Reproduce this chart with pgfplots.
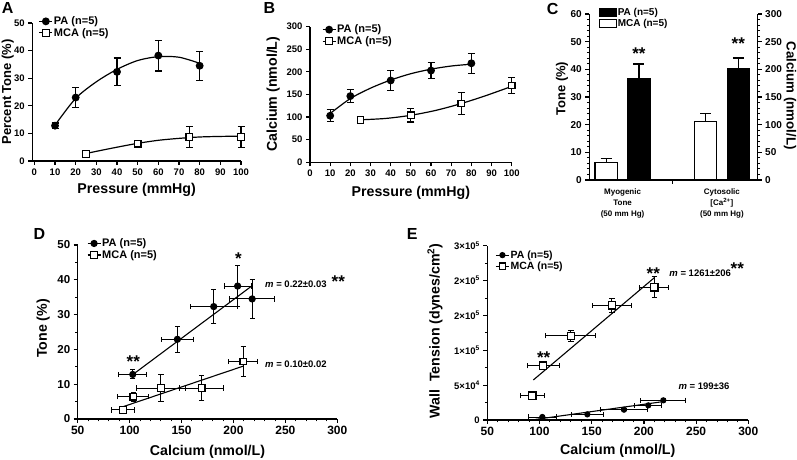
\documentclass[border=0pt]{standalone}
\usepackage{fontspec}
\setmainfont{Liberation Sans}
\usepackage{pgfplots}
\pgfplotsset{compat=1.18}
\newcommand{\lblfont}{\fontsize{14.2}{17}\selectfont\bfseries}
\pgfplotsset{
  prism/.style={
    scale only axis,
    axis lines=left,
    axis line style={-, line width=1.2pt},
    tick align=outside,
    major tick length=4pt,
    minor tick length=2.5pt,
    every tick/.style={black, line width=1.2pt},
    every minor tick/.style={black, line width=0.9pt},
    /pgf/number format/assume math mode=true,
    tick label style={font=\fontsize{9.5}{11}\selectfont\bfseries},
    legend style={draw=none, fill=none, inner sep=0pt, row sep=0pt, nodes={inner sep=1pt}, font=\fontsize{11}{12}\selectfont\bfseries, /tikz/column 2/.style={column sep=4pt}},
    legend cell align=left,
    legend image code/.code={\draw[mark repeat=2,mark phase=2,##1] plot coordinates {(0pt,0pt) (6.5pt,0pt) (13pt,0pt)};},
    clip=false,
  },
  pa/.style={black, line width=1.2pt, mark=*, mark size=3.3pt, mark options={solid, fill=black}},
  mca/.style={black, line width=1.2pt, mark=square*, mark size=3.3pt, mark options={solid, fill=white}},
  fit/.style={black, line width=1.2pt, smooth, no marks},
  ebary/.style={only marks, error bars/y dir=both, error bars/y explicit, error bars/error bar style={line width=1.2pt}, error bars/error mark options={black, line width=1.2pt, mark size=3.5pt, rotate=90}},
  ebarxy/.style={only marks, error bars/x dir=both, error bars/x explicit, error bars/y dir=both, error bars/y explicit, error bars/error bar style={line width=1pt}, error bars/error mark options={black, line width=1pt, mark size=2.6pt, rotate=90}},
  cbar/.style={forget plot, ybar, bar width=0.2246, bar shift=0pt, draw=black, line width=1.2pt, error bars/y dir=plus, error bars/y explicit, error bars/error bar style={line width=1.2pt}, error bars/error mark options={black, line width=1.2pt, mark size=5.5pt, rotate=90}},
}
\begin{document}
\bfseries
\begin{tikzpicture}
\path[use as bounding box] (0pt,0pt) rectangle (797pt,460pt);
% panel letters
\node[anchor=base west, inner sep=0, font=\fontsize{16}{18}\selectfont\bfseries] at (1.7pt,446pt) {A};
\node[anchor=base west, inner sep=0, font=\fontsize{16}{18}\selectfont\bfseries] at (263.3pt,446pt) {B};
\node[anchor=base west, inner sep=0, font=\fontsize{16}{18}\selectfont\bfseries] at (546.7pt,445pt) {C};
\node[anchor=base west, inner sep=0, font=\fontsize{16}{18}\selectfont\bfseries] at (33.3pt,220pt) {D};
\node[anchor=base west, inner sep=0, font=\fontsize{16}{18}\selectfont\bfseries] at (406.7pt,220pt) {E};

% ---------------- A ----------------
\begin{axis}[prism, at={(32.3pt,299pt)}, anchor=south west, width=208.7pt, height=138pt,
  xmin=-1, xmax=100, ymin=0, ymax=50, xtick={0,10,...,100}, ytick={0,10,...,50},
  xlabel={Pressure (mmHg)}, ylabel={Percent Tone (\%)},
  every axis x label/.style={at={(axis description cs:0.5,-0.234)}, anchor=base, font=\lblfont},
  every axis y label/.style={at={(axis description cs:-0.117,0.502)}, anchor=center, rotate=90, font=\fontsize{13}{15}\selectfont\bfseries},
  legend style={at={(axis description cs:0.03,1.055)}, anchor=north west}]
\addlegendimage{pa}\addlegendentry{PA (n=5)}
\addlegendimage{mca}\addlegendentry{MCA (n=5)}
\addplot[fit, forget plot] coordinates {(10,13.0) (20,22.7) (30,28.7) (40,33.2) (50,36.4) (60,37.8) (70,37.6) (80,35.4)};
\addplot[fit, forget plot] coordinates {(25,2.7) (30,3.5) (40,5.0) (50,6.4) (60,7.5) (70,8.2) (80,8.7) (90,8.9) (100,9.0)};
\addplot[pa, forget plot, ebary] table[x=x, y=y, y error=e] {
x y e
10 12.8 1.0
20 23.0 3.7
40 32.3 5.0
60 38.2 5.6
80 34.5 5.3
};
\addplot[mca, forget plot, ebary] table[x=x, y=y, y error=e] {
x y e
25 2.6 0.6
50 6.3 0.8
75 8.7 3.9
100 8.7 3.7
};
\end{axis}

% ---------------- B ----------------
\begin{axis}[prism, at={(310pt,297.7pt)}, anchor=south west, width=201.7pt, height=135.6pt,
  xmin=0, xmax=100, ymin=0, ymax=300, xtick={0,10,...,100}, ytick={0,50,...,300},
  xlabel={Pressure (mmHg)}, ylabel={Calcium (nmol/L)},
  every axis x label/.style={at={(axis description cs:0.5,-0.254)}, anchor=base, font=\lblfont},
  every axis y label/.style={at={(axis description cs:-0.182,0.502)}, anchor=center, rotate=90, font=\lblfont},
  legend style={at={(axis description cs:0.0585,1.022)}, anchor=north west}]
\addlegendimage{pa}\addlegendentry{PA (n=5)}
\addlegendimage{mca}\addlegendentry{MCA (n=5)}
\addplot[fit, forget plot] coordinates {(10,108) (20,141) (30,164) (40,182) (50,196) (60,206) (70,213) (80,217)};
\addplot[fit, forget plot] coordinates {(25,94) (37.5,97) (50,104) (62.5,115) (75,130) (87.5,148) (100,168)};
\addplot[pa, forget plot, ebary] table[x=x, y=y, y error=e] {
x y e
10 103 13.5
20 146.5 14
40 181 22
60 203 18
80 219 22
};
\addplot[mca, forget plot, ebary] table[x=x, y=y, y error=e] {
x y e
25 93.6 8
50 104 15
75 130 24
100 170 17
};
\end{axis}

% ---------------- C ----------------
\begin{axis}[prism, at={(589.3pt,280pt)}, anchor=south west, width=168.4pt, height=166pt,
  xmin=0.6647, xmax=2.3605, ymin=0, ymax=60, xtick={1.5}, xticklabels={}, ytick={0,10,...,60},
  minor y tick num=4,
  tick label style={font=\fontsize{10}{12}\selectfont\bfseries},
  ylabel={Tone (\%)},
  every axis y label/.style={at={(axis description cs:-0.162,0.55)}, anchor=center, rotate=90, font=\fontsize{13}{15}\selectfont\bfseries},
  legend style={at={(axis description cs:0.055,1.042)}, anchor=north west, nodes={inner sep=1pt}, font=\fontsize{10}{11}\selectfont\bfseries, /tikz/column 2/.style={column sep=0.5pt}},
  legend image code/.code={\draw[#1] (0pt,-3.7pt) rectangle (17pt,3.7pt);}]
\addlegendimage{draw=black, fill=black, line width=1pt}\addlegendentry{PA (n=5)}
\addlegendimage{draw=black, fill=white, line width=1pt}\addlegendentry{MCA (n=5)}
\addplot[cbar, fill=white] coordinates {(0.835,6.4) +- (0,1.5)};
\addplot[cbar, fill=black] coordinates {(1.165,36.6) +- (0,5.3)};
\node[font=\fontsize{17}{18}\selectfont\bfseries] at (axis cs:1.165,45.5) {**};
\node[align=center, anchor=north, font=\fontsize{8}{10.7}\selectfont\bfseries] at (axis cs:1,-2.0) {Myogenic\\Tone\\(50 mm Hg)};
\node[align=center, anchor=north, font=\fontsize{8}{10.7}\selectfont\bfseries] at (axis cs:2,-2.0) {Cytosolic\\{[}Ca\textsuperscript{2+}{]}\\(50 mm Hg)};
\end{axis}
\begin{axis}[prism, at={(589.3pt,280pt)}, anchor=south west, width=168.4pt, height=166pt,
  xmin=0.6647, xmax=2.3605, ymin=0, ymax=300, axis x line=none, axis y line*=right, ytick={0,50,...,300},
  minor y tick num=4,
  tick label style={font=\fontsize{10}{12}\selectfont\bfseries},
  ylabel={Calcium (nmol/L)},
  every axis y label/.style={at={(axis description cs:1.172,0.507)}, anchor=base, rotate=-90, font=\fontsize{13.3}{15}\selectfont\bfseries}]
\addplot[cbar, fill=white] coordinates {(1.835,105) +- (0,15)};
\addplot[cbar, fill=black] coordinates {(2.165,200.6) +- (0,20)};
\node[font=\fontsize{17}{18}\selectfont\bfseries] at (axis cs:2.165,246) {**};
\end{axis}

% ---------------- D ----------------
\begin{axis}[prism, at={(77.7pt,41pt)}, anchor=south west, width=259.6pt, height=174pt,
  xmin=50, xmax=300, ymin=0, ymax=50, xtick={50,100,...,300}, ytick={0,10,...,50},
  minor x tick num=4, minor y tick num=1,
  xticklabel style={font=\fontsize{12}{13}\selectfont\bfseries},
  yticklabel style={font=\fontsize{11.5}{13}\selectfont\bfseries},
  xlabel={Calcium (nmol/L)}, ylabel={Tone (\%)},
  every axis x label/.style={at={(axis description cs:0.5,-0.207)}, anchor=base, font=\lblfont},
  every axis y label/.style={at={(axis description cs:-0.1325,0.52)}, anchor=center, rotate=90, font=\lblfont},
  legend style={at={(axis description cs:0.035,1.043)}, anchor=north west}]
\addlegendimage{pa, mark size=3pt}\addlegendentry{PA (n=5)}
\addlegendimage{mca}\addlegendentry{MCA (n=5)}
\addplot[black, line width=1.1pt, forget plot] coordinates {(105,13.2) (218,38.3)};
\addplot[black, line width=1.1pt, forget plot] coordinates {(93.3,3.5) (209.5,15.2)};
\addplot[pa, mark size=3pt, forget plot, ebarxy] table[x=x, y=y, x error=ex, y error=ey] {
x y ex ey
103 12.8 13.6 1.3
146 22.9 15.5 3.8
181 32.3 22.5 5.0
204 38.2 13 5.8
218 34.5 21.7 5.5
};
\addplot[mca, forget plot, ebarxy] table[x=x, y=y, x error=ex, y error=ey] {
x y ex ey
93.5 2.6 11 1.0
103.6 6.4 15 1.3
130.2 8.9 24 4.0
169.4 8.9 21 3.7
209.5 16.5 14 4.3
};
\node[font=\fontsize{17}{18}\selectfont\bfseries] at (axis cs:103.5,16.6) {**};
\node[font=\fontsize{17}{18}\selectfont\bfseries] at (axis cs:204.7,46) {*};
\node[anchor=west, inner sep=0, font=\fontsize{9.5}{10}\selectfont\bfseries] at (axis cs:230.4,38.7) {\textit{m} = 0.22±0.03};
\node[font=\fontsize{17}{18}\selectfont\bfseries] at (axis cs:301,39.6) {**};
\node[anchor=west, inner sep=0, font=\fontsize{9.5}{10}\selectfont\bfseries] at (axis cs:230.4,15.7) {\textit{m} = 0.10±0.02};
\end{axis}

% ---------------- E ----------------
\begin{axis}[prism, at={(487.3pt,40pt)}, anchor=south west, width=261pt, height=174.3pt,
  xmin=50, xmax=300, ymin=0, ymax=250000, xtick={50,100,...,300}, ytick={0,50000,100000,150000,200000,250000},
  yticklabels={0,5×10\textsuperscript{4},1×10\textsuperscript{5},2×10\textsuperscript{5},2×10\textsuperscript{5},3×10\textsuperscript{5}},
  scaled y ticks=false,
  minor x tick num=4, minor y tick num=1,
  xticklabel style={font=\fontsize{12}{13}\selectfont\bfseries},
  yticklabel style={font=\fontsize{9.5}{10}\selectfont\bfseries},
  xlabel={Calcium (nmol/L)}, ylabel={Wall\ \ Tension (dynes/cm\textsuperscript{2})},
  every axis x label/.style={at={(axis description cs:0.5,-0.2)}, anchor=base, font=\lblfont},
  every axis y label/.style={at={(axis description cs:-0.2,0.512)}, anchor=center, rotate=90, font=\lblfont},
  legend style={at={(axis description cs:0.03,0.979)}, anchor=north west, font=\fontsize{10.5}{12}\selectfont\bfseries}]
\addlegendimage{pa, mark size=2.5pt}\addlegendentry{PA (n=5)}
\addlegendimage{mca}\addlegendentry{MCA (n=5)}
\addplot[black, line width=1.1pt, forget plot] coordinates {(96,800) (219,26500)};
\addplot[black, line width=1.1pt, forget plot] coordinates {(94.1,57400) (210,204100)};
\addplot[pa, mark size=2.5pt, forget plot, ebarxy] table[x=x, y=y, x error=ex, y error=ey] {
x y ex ey
102.7 4300 13.7 1500
145.8 8100 15.5 1500
180.9 14800 22.5 1500
204.2 21000 13 2000
218.6 28200 21.7 2000
};
\addplot[mca, mark size=3.6pt, forget plot, ebarxy] table[x=x, y=y, x error=ex, y error=ey] {
x y ex ey
93.1 34900 11.6 2000
103.6 77900 15.5 4000
130.1 120900 24 7600
169.4 164400 18.5 10500
210 190250 14 15000
};
\node[font=\fontsize{17}{18}\selectfont\bfseries] at (axis cs:104,90000) {**};
\node[font=\fontsize{17}{18}\selectfont\bfseries] at (axis cs:209,210000) {**};
\node[anchor=west, inner sep=0, font=\fontsize{9.5}{10}\selectfont\bfseries] at (axis cs:224.3,209800) {\textit{m} = 1261±206};
\node[font=\fontsize{17}{18}\selectfont\bfseries] at (axis cs:289.5,217000) {**};
\node[anchor=west, inner sep=0, font=\fontsize{9.5}{10}\selectfont\bfseries] at (axis cs:233,47800) {\textit{m} = 199±36};
\end{axis}
\end{tikzpicture}
\end{document}
